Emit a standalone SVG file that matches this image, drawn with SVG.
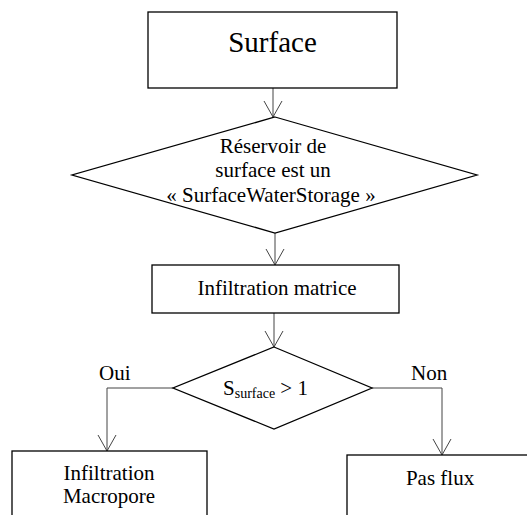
<svg xmlns="http://www.w3.org/2000/svg" width="527" height="515" viewBox="0 0 527 515">
<style>
.box{fill:#fff;stroke:#000;stroke-width:1.3}
.con{fill:none;stroke:#444;stroke-width:1}
.t{font-family:'Times New Roman', 'Liberation Serif', Tinos, serif;font-size:21px;text-anchor:middle;fill:#000}
.l{font-family:'Times New Roman', 'Liberation Serif', Tinos, serif;font-size:21px;fill:#000}
</style>
<defs>
<marker id="arr" markerUnits="userSpaceOnUse" markerWidth="20" markerHeight="20" orient="auto" overflow="visible">
<path d="M-16,-9 L0,0 L-16,9" fill="none" stroke="#444" stroke-width="1"/>
</marker>
</defs>
<rect width="527" height="515" fill="#fff"/>
<g id="connectors">
<path class="con" d="M273,88 L273,117" marker-end="url(#arr)"/>
<path class="con" d="M275,233 L275,265" marker-end="url(#arr)"/>
<path class="con" d="M274,313 L274,347" marker-end="url(#arr)"/>
<path class="con" d="M173,388 L107,388 L107,451" marker-end="url(#arr)"/>
<path class="con" d="M372,388 L442,388 L442,455" marker-end="url(#arr)"/>
<text class="l" x="99" y="380">Oui</text>
<text class="l" x="411" y="380">Non</text>
</g>
<g id="surface">
<rect class="box" x="148" y="12" width="249" height="76"/>
<text class="t" x="272.5" y="52" style="font-size:29px">Surface</text>
</g>
<g id="decision1">
<polygon class="box" points="275,117 477,175 275,233 72,175"/>
<text class="t" x="273" y="153">Réservoir de</text>
<text class="t" x="273" y="177">surface est un</text>
<text class="t" x="271" y="202">« SurfaceWaterStorage »</text>
</g>
<g id="infiltration-matrice">
<rect class="box" x="152" y="265" width="247" height="48"/>
<text class="t" x="277" y="295">Infiltration matrice</text>
</g>
<g id="decision2">
<polygon class="box" points="274,347 372,388 274,429 173,388"/>
<text class="l" x="223" y="395">S<tspan font-size="14" dy="3">surface</tspan><tspan dy="-3"> &gt; 1</tspan></text>
</g>
<g id="infiltration-macropore">
<rect class="box" x="12" y="451" width="195" height="80"/>
<text class="t" x="109" y="480">Infiltration</text>
<text class="t" x="109" y="503">Macropore</text>
</g>
<g id="pas-flux">
<rect class="box" x="347" y="455" width="200" height="80"/>
<text class="t" x="440" y="485">Pas flux</text>
</g>
</svg>
